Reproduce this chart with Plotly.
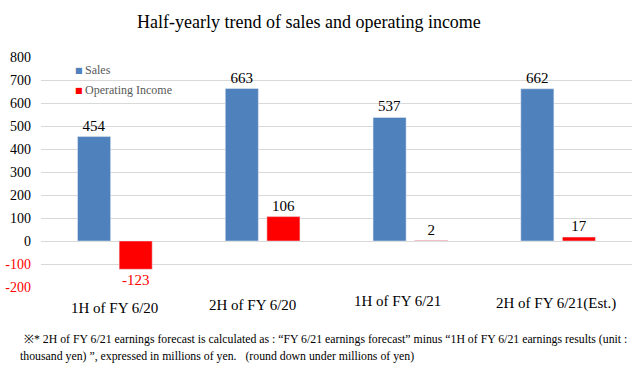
import plotly.graph_objects as go

categories = ["1H of FY 6/20", "2H of FY 6/20", "1H of FY 6/21", "2H of FY 6/21(Est.)"]
sales = [454, 663, 537, 662]
op_income = [-123, 106, 2, 17]
y_ticks = [-200, -100, 0, 100, 200, 300, 400, 500, 600, 700, 800]

title_text = "Half-yearly trend of sales and operating income"
note_lines = [
    "※* 2H of FY 6/21 earnings forecast is calculated as : “FY 6/21 earnings forecast” minus “1H of FY 6/21 earnings results (unit :",
    "thousand yen) ”, expressed in millions of yen.   (round down under millions of yen)",
]

FONT = "Liberation Serif"
BLUE = "#4f81bd"
RED = "#ff0000"

fig = go.Figure()
fig.add_trace(go.Bar(
    x=categories, y=sales, name="Sales", marker_color=BLUE, showlegend=False,
    text=[str(v) for v in sales], textposition="outside",
    textfont=dict(family=FONT, size=15, color="#000000"), cliponaxis=False,
))
fig.add_trace(go.Bar(
    x=categories, y=op_income, name="Operating Income", marker_color=RED, showlegend=False,
    text=[str(v) for v in op_income], textposition="outside",
    textfont=dict(family=FONT, size=15, color=[RED if v < 0 else "#000000" for v in op_income]),
    cliponaxis=False,
))

tick_text = [f"<span style='color:{RED}'>{t}</span>" if t < 0 else str(t) for t in y_ticks]

fig.update_layout(
    width=643, height=369,
    margin=dict(l=41, r=11, t=57, b=82, autoexpand=False),
    paper_bgcolor="white", plot_bgcolor="white",
    font=dict(family=FONT, color="#000000"),
    barmode="group", bargap=0.437, bargroupgap=0.205,
    showlegend=False,
    xaxis=dict(showticklabels=False, showgrid=False, zeroline=False, showline=False,
               automargin=False),
    yaxis=dict(range=[-200, 800], tickvals=y_ticks, ticktext=tick_text,
               showgrid=True, gridcolor="#d9d9d9", gridwidth=1,
               zeroline=True, zerolinecolor="#d9d9d9", zerolinewidth=1,
               tickfont=dict(family=FONT, size=14, color="#000000"),
               ticks="", ticklabelstandoff=9, showline=False, automargin=False),
)

# legend drawn as small squares + labels (taken from trace names/colours)
for i, tr in enumerate(fig.data):
    yshift = -13 - 20 * i
    fig.add_annotation(text="■", xref="paper", yref="paper", x=(78.5 - 41) / 591, y=1,
                       yshift=yshift, xanchor="center", yanchor="middle", showarrow=False,
                       font=dict(family="DejaVu Sans", size=8, color=tr.marker.color))
    fig.add_annotation(text=tr.name, xref="paper", yref="paper", x=(83 - 41) / 591, y=1,
                       yshift=yshift, xanchor="left", yanchor="middle", showarrow=False,
                       font=dict(family=FONT, size=12, color="#595959"))

# title
fig.add_annotation(text=title_text, xref="paper", yref="paper", x=(309 - 41) / 591, y=1,
                   yshift=35, xanchor="center", yanchor="middle", showarrow=False,
                   font=dict(family=FONT, size=18, color="#000000"))

# category labels
label_xshift = [0, -10, -13, -2]
label_yshift = [-21, -18, -14, -16]
for c, dx, dy in zip(categories, label_xshift, label_yshift):
    fig.add_annotation(text=c, x=c, xref="x", y=0, yref="paper", xshift=dx, yshift=dy,
                       xanchor="center", yanchor="middle", showarrow=False,
                       font=dict(family=FONT, size=15, color="#000000"))

# footnote
for i, line in enumerate(note_lines):
    fig.add_annotation(text=line, xref="paper", yref="paper", x=(22 - 41 - (4 if i else 0)) / 591, y=0,
                       yshift=-52 - 17 * i, xanchor="left", yanchor="middle", showarrow=False,
                       font=dict(family=FONT, size=11.8, color="#000000"))

fig.write_html("out.html", config={"displayModeBar": False},
               post_script="document.body.style.margin='0';")
